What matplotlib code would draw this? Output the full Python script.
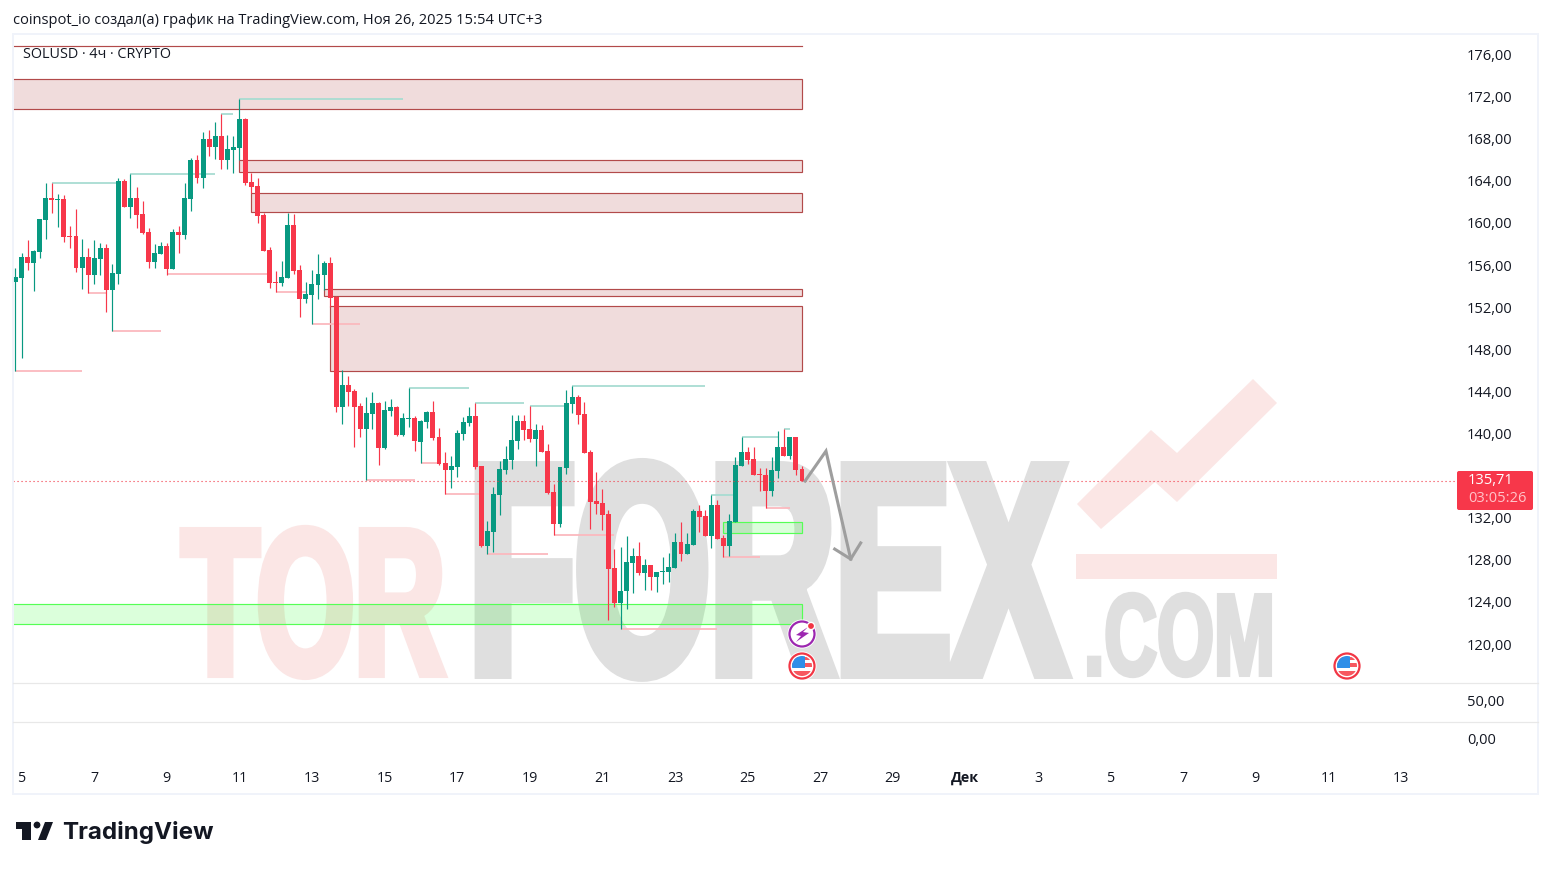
import matplotlib
matplotlib.use("Agg")
from matplotlib import pyplot as plt
from matplotlib.patches import Rectangle, Circle, Polygon, FancyBboxPatch
from matplotlib.patheffects import AbstractPathEffect
from matplotlib.transforms import Affine2D

plt.rcParams['font.family'] = ['Open Sans', 'DejaVu Sans']

# 4h candles
opens = [154.39, 154.77, 156.76, 156.19, 157.24, 160.28, 162.37, 162.18, 162.27, 158.76,
         158.76, 155.72, 156.76, 155.05, 156.57, 157.62, 153.63, 155.15, 163.98, 161.5,
         162.37, 160.85, 159.14, 156.29, 157.05, 157.81, 155.62, 159.14, 158.85, 162.27,
         165.98, 164.27, 167.97, 167.21, 168.26, 165.98, 166.93, 167.12, 169.87, 163.89,
         163.51, 160.75, 157.43, 154.39, 154.29, 154.77, 159.8, 155.53, 152.77, 153.16,
         154.1, 155.05, 156.19, 152.96, 142.51, 144.6, 144.03, 142.61, 140.42, 141.85,
         142.89, 138.62, 142.13, 142.51, 139.85, 141.37, 141.47, 139.19, 141.09, 142.04,
         139.66, 137.19, 136.53, 136.81, 139.95, 141.0, 141.66, 136.91, 129.31, 130.64,
         134.15, 136.53, 137.48, 139.28, 141.18, 140.42, 139.47, 140.33, 138.33, 134.44,
         131.4, 136.72, 142.8, 143.46, 141.85, 138.24, 133.58, 133.39, 132.35, 127.22,
         123.89, 125.03, 127.69, 128.36, 126.74, 127.5, 126.36, 126.84, 126.84, 127.22,
         129.69, 128.55, 129.4, 132.63, 132.16, 130.26, 133.2, 130.07, 129.31, 131.59,
         136.91, 138.24, 137.57, 136.15, 136.05, 134.53, 136.43, 138.71, 137.86, 139.66, 136.63]
highs = [155.72, 157.14, 158.38, 157.43, 160.37, 163.79, 163.79, 162.75, 162.65, 159.71,
         161.32, 158.47, 157.62, 158.38, 158.09, 158.0, 156.1, 164.27, 164.17, 164.65,
         163.41, 162.08, 159.52, 158.0, 158.19, 158.09, 159.42, 159.71, 163.79, 166.17,
         166.45, 168.64, 168.83, 169.59, 170.35, 168.35, 168.26, 171.77, 169.97, 164.74,
         164.27, 160.95, 157.71, 155.43, 156.38, 160.95, 160.85, 155.98, 154.39, 155.53,
         157.05, 156.38, 156.76, 153.06, 146.03, 145.46, 144.22, 142.89, 143.46, 143.94,
         142.99, 143.08, 143.27, 142.61, 141.94, 144.32, 141.66, 141.28, 142.13, 143.08,
         140.52, 138.24, 137.86, 140.33, 141.56, 142.51, 142.89, 136.91, 131.68, 134.91,
         137.38, 138.81, 141.75, 141.75, 141.75, 142.61, 140.9, 140.8, 139.0, 135.2,
         136.81, 144.13, 144.51, 143.65, 142.99, 138.43, 136.34, 134.72, 132.73, 129.02,
         129.21, 130.26, 129.12, 129.69, 128.07, 127.5, 126.84, 128.26, 128.64, 130.54,
         131.59, 130.54, 132.82, 133.2, 132.73, 134.15, 133.68, 130.35, 132.35, 137.77,
         139.66, 138.71, 138.71, 136.72, 136.72, 137.77, 140.23, 140.43, 139.66, 139.66, 136.91]
lows = [145.93, 147.2, 155.53, 153.53, 156.67, 158.47, 160.95, 159.61, 158.19, 157.62,
        155.34, 153.72, 153.34, 154.2, 155.05, 151.54, 149.73, 154.2, 161.5, 160.47,
        159.52, 158.95, 155.72, 155.72, 157.05, 155.05, 155.62, 157.14, 158.47, 161.13,
        163.79, 163.32, 166.36, 166.07, 165.12, 165.12, 164.74, 165.98, 163.6, 162.85,
        160.0, 157.33, 153.82, 153.44, 154.01, 154.77, 155.15, 151.06, 152.39, 150.4,
        152.77, 153.63, 152.05, 142.04, 140.9, 142.61, 138.71, 139.66, 135.58, 140.42,
        137.0, 138.52, 141.66, 139.76, 139.76, 140.61, 138.33, 137.2, 140.52, 139.38,
        137.0, 134.25, 134.82, 135.86, 139.38, 140.71, 136.62, 129.21, 128.55, 128.74,
        132.25, 136.15, 136.62, 138.52, 139.38, 139.19, 136.91, 138.24, 134.25, 130.35,
        131.11, 136.15, 141.94, 140.9, 138.14, 130.92, 132.35, 130.83, 122.28, 123.51,
        121.42, 123.32, 124.84, 126.55, 125.13, 125.13, 124.94, 125.7, 125.89, 127.22,
        127.88, 128.55, 129.4, 130.64, 130.26, 129.12, 129.97, 128.26, 128.36, 131.59,
        136.91, 137.1, 136.05, 134.53, 132.92, 134.06, 135.77, 137.86, 137.57, 136.05, 135.46]
closes = [154.86, 156.76, 156.19, 157.33, 160.37, 162.37, 162.18, 162.27, 158.66, 158.66,
          155.72, 156.76, 155.05, 156.67, 157.62, 153.63, 155.24, 163.98, 161.5, 162.37,
          160.75, 159.04, 156.29, 157.14, 157.81, 155.62, 159.14, 158.85, 162.37, 165.98,
          164.27, 167.97, 167.21, 168.26, 165.98, 167.02, 167.21, 169.87, 163.79, 163.41,
          160.66, 157.33, 154.29, 154.29, 154.86, 159.8, 155.43, 152.77, 153.25, 154.2,
          155.15, 156.19, 152.87, 142.51, 144.6, 143.94, 142.51, 140.42, 141.94, 142.89,
          138.62, 142.23, 142.51, 139.85, 141.47, 141.47, 139.28, 141.18, 142.04, 139.57,
          137.1, 136.53, 136.91, 140.04, 141.09, 141.66, 136.81, 129.31, 130.73, 134.25,
          136.62, 137.57, 139.38, 141.18, 140.33, 139.47, 140.33, 138.24, 134.34, 131.4,
          136.81, 142.89, 143.46, 141.75, 138.14, 133.49, 133.3, 132.25, 127.12, 123.89,
          125.03, 127.79, 128.36, 126.74, 127.5, 126.36, 126.84, 126.93, 127.31, 129.69,
          128.55, 129.5, 132.63, 132.06, 130.26, 133.2, 129.97, 129.31, 131.68, 137.0,
          138.24, 137.48, 136.05, 136.05, 134.53, 136.53, 138.71, 137.86, 139.66, 136.53, 135.46]

# swing levels: start bar, end bar, price
high_starts = [6, 19, 34, 37, 65, 76, 85, 92, 115, 120, 127]
high_ends = [17, 33, 36, 64, 75, 84, 91, 114, 119, 126, 128]
high_prices = [163.79, 164.65, 170.35, 171.77, 144.32, 142.89, 142.61, 144.51, 134.15, 139.66, 140.43]
low_starts = [0, 12, 16, 25, 43, 49, 58, 67, 71, 78, 89, 100, 117, 124]
low_ends = [11, 15, 24, 42, 48, 57, 66, 70, 77, 88, 99, 116, 123, 128]
low_prices = [145.93, 153.34, 149.73, 155.15, 153.44, 150.4, 135.58, 137.2, 134.25, 128.55, 130.35, 121.42, 128.26, 132.92]

# zones: left bar, bottom price, top price
red_left = [-1, 37, 39, 51, 52]
red_bottom = [170.82, 164.84, 161.04, 153.1, 145.98]
red_top = [173.67, 165.98, 162.84, 153.72, 152.11]
green_left = [-1, 117]
green_bottom = [121.9, 130.54]
green_top = [123.8, 131.59]
zone_right = 130
top_line = 176.81

arrow_bars = [130.5, 133.96, 138.05]
arrow_prices = [135.48, 138.33, 128.07]
head_bars = [135.4, 138.05, 139.7]
head_prices = [129.02, 128.07, 129.6]

# the 136,00 label sits under the price flag, so it is not shown
price_ticks = [120, 124, 128, 132, 140, 144, 148, 152, 156, 160, 164, 168, 172, 176]
volume_ticks = [0, 50]
day_labels = ['5', '7', '9', '11', '13', '15', '17', '19', '21', '23', '25', '27', '29',
              'Дек', '3', '5', '7', '9', '11', '13']
day_bars = [1 + 12 * k for k in range(len(day_labels))]
last_price = closes[-1]

UP = '#089981'
DOWN = '#f7374a'
INK = '#131722'
W, H = 1551, 869


def box(x0, y0, x1, y1):
    return [x0 / W, 1 - y1 / H, (x1 - x0) / W, (y1 - y0) / H]


class Stretch(AbstractPathEffect):
    # makes a text taller and fatter (no heavy condensed font is installed)
    def __init__(self, x0, y0, sx, sy, stroke):
        super().__init__()
        self.x0, self.y0, self.sx, self.sy, self.stroke = x0, y0, sx, sy, stroke

    def draw_path(self, renderer, gc, tpath, affine, rgbFace=None):
        fit = Affine2D().translate(-self.x0, -self.y0).scale(self.sx, self.sy).translate(self.x0, self.y0)
        gc2 = renderer.new_gc()
        gc2.copy_properties(gc)
        gc2.set_linewidth(self.stroke)
        gc2.set_foreground(rgbFace)
        gc2.set_joinstyle('miter')
        renderer.draw_path(gc2, tpath, affine + fit, rgbFace)
        gc2.restore()


fig = plt.figure(figsize=(W / 100, H / 100), dpi=100, facecolor='white')
back = fig.add_axes([0, 0, 1, 1], zorder=0)
back.set_xlim(0, W)
back.set_ylim(H, 0)
back.axis('off')
ax = fig.add_axes(box(13, 34, 1455, 682), zorder=1, facecolor='none')
ax2 = fig.add_axes(box(13, 682, 1455, 758), zorder=1, facecolor='none', sharex=ax)
over = fig.add_axes([0, 0, 1, 1], zorder=2, facecolor='none')
over.set_xlim(0, W)
over.set_ylim(H, 0)
over.axis('off')

# watermark
renderer = fig.canvas.get_renderer()


def watermark(text, x0, x1, top, baseline, size, stroke, color):
    t = back.text(x0, baseline, text, fontsize=size, color=color, fontweight='bold', va='baseline',
                  ha='left', family=['Liberation Sans'])
    sx = (x1 - x0) / t.get_window_extent(renderer).width
    sy = (baseline - top) / (0.9556 * size)
    t.set_path_effects([Stretch(x0, H - baseline, sx, sy, stroke)])


watermark('TOR', 182, 445, 531, 674, 88, 5.8, '#fbe6e5')
watermark('FOREX', 469, 1066, 467, 673, 120, 8.6, '#dfdfdf')
watermark('.COM', 1084, 1275, 595, 675, 50, 2.9, '#dfdfdf')
back.add_patch(Polygon([(1077, 504), (1151, 430), (1177, 453), (1253, 379), (1277, 403),
                        (1177, 502), (1155, 482), (1101, 529)], fc='#fbe6e5', ec='none'))
back.add_patch(Rectangle((1076, 554), 201, 25, fc='#fbe6e5', ec='none'))

# zones
for left, bottom, top in zip(red_left, red_bottom, red_top):
    ax.add_patch(Rectangle((left, bottom), zone_right - left, top - bottom, fc='#a52a2a',
                           alpha=0.16, ec='none', zorder=2))
    ax.add_patch(Rectangle((left, bottom), zone_right - left, top - bottom, fc='none',
                           ec='#b24a4a', lw=0.85, zorder=2))
for left, bottom, top in zip(green_left, green_bottom, green_top):
    ax.add_patch(Rectangle((left, bottom), zone_right - left, top - bottom, fc='#00ff00',
                           alpha=0.14, ec='none', zorder=2))
    ax.add_patch(Rectangle((left, bottom), zone_right - left, top - bottom, fc='none',
                           ec='#55ff55', lw=0.85, zorder=2))
ax.plot([-1, zone_right], [top_line, top_line], color='#b24a4a', lw=0.85, zorder=2)

# swing lines
ax.hlines(high_prices, high_starts, high_ends, color='#a8dcd2', lw=1.3, zorder=3)
ax.hlines(low_prices, low_starts, low_ends, color='#fbb9be', lw=1.3, zorder=3)

# candles
bars = list(range(len(highs)))
colors = [UP if c >= o else DOWN for o, c in zip(opens, closes)]
ax.vlines(bars, lows, highs, color=colors, lw=0.85, zorder=4)
ax.bar(bars, [max(abs(c - o), 0.08) for o, c in zip(opens, closes)],
       bottom=[min(o, c) for o, c in zip(opens, closes)], width=0.82, color=colors, zorder=5)

ax.axhline(last_price, color='#f23645', lw=0.8, ls=(0, (1, 2.6)), zorder=6)

# arrow drawing
ax.plot(arrow_bars, arrow_prices, color='#9e9e9e', lw=2.2, zorder=7, solid_joinstyle='miter')
ax.plot(head_bars, head_prices, color='#9e9e9e', lw=2.2, zorder=7, solid_joinstyle='miter')

ax.set_xlim(-0.413, 237.93)
ax.set_ylim(116.39, 177.95)
ax.yaxis.tick_right()
ax.set_yticks(price_ticks, [f'{p},00' for p in price_ticks])
ax.tick_params(axis='y', length=0, pad=8.6, labelsize=10.5, labelcolor=INK)
ax.tick_params(axis='x', length=0, labelbottom=False)
ax2.set_ylim(-25.0, 75.0)
ax2.yaxis.tick_right()
ax2.set_yticks(volume_ticks, [f'{v},00' for v in volume_ticks])
ax2.tick_params(axis='y', length=0, pad=8.6, labelsize=10.5, labelcolor=INK)
ax2.set_xticks(day_bars, day_labels)
ax2.tick_params(axis='x', length=0, pad=9.5, labelsize=10.3, labelcolor=INK)
for label in ax2.get_xticklabels():
    if label.get_text() == 'Дек':
        label.set_fontweight('bold')
for a in (ax, ax2):
    for side in a.spines.values():
        side.set_visible(False)

# frame and pane separators
over.add_patch(Rectangle((13, 34), 1525, 760, fc='none', ec='#f0f3fa', lw=1.4))
over.plot([13, 1538], [682.6, 682.6], color='#e8e8e8', lw=0.9)
over.plot([13, 1538], [721.6, 721.6], color='#e8e8e8', lw=0.9)

# price flag
over.add_patch(FancyBboxPatch((1457, 471), 76, 39, boxstyle='round,pad=0,rounding_size=2',
                              fc='#f7374a', ec='none'))
over.text(1468, 481, '135,71', color='white', fontsize=10.5, va='center', ha='left')
over.text(1468, 499, '03:05:26', color='#ffc4c9', fontsize=10.5, va='center', ha='left')


def flag_icon(cx, cy):
    over.add_patch(Circle((cx, cy), 14.5, fc='white', ec='none', zorder=5))
    over.add_patch(Circle((cx, cy), 12.5, fc='white', ec='#f23645', lw=1.6, zorder=6))
    clip = Circle((cx, cy), 10, transform=over.transData)
    for top, height in [(-9, 3), (-3, 4), (5, 5)]:
        stripe = Rectangle((cx - 10, cy + top), 20, height, fc='#f7575f', ec='none', zorder=7)
        over.add_patch(stripe)
        stripe.set_clip_path(clip)
    canton = Rectangle((cx - 10, cy - 10), 13, 12, fc='#2f8fe8', ec='none', zorder=8)
    over.add_patch(canton)
    canton.set_clip_path(clip)


flag_icon(802, 666)
flag_icon(1347, 666)
over.add_patch(Circle((802, 634), 14.5, fc='white', ec='none', zorder=5))
over.add_patch(Circle((802, 634), 12.5, fc='white', ec='#9c27b0', lw=1.6, zorder=6))
over.add_patch(Polygon([(808, 627), (796, 635), (801, 636), (796, 642), (809, 633), (803, 632)],
                       fc='#9c27b0', ec='none', zorder=7))
over.add_patch(Circle((811, 626), 3.6, fc='#f23645', ec='white', lw=1, zorder=8))

# header and logo
over.text(13, 20.5, 'coinspot_io создал(а) график на TradingView.com, Ноя 26, 2025 15:54 UTC+3',
          color=INK, fontsize=10.5, va='center', ha='left')
over.text(23, 54.5, 'SOLUSD · 4ч · CRYPTO', color=INK, fontsize=10.35, va='center', ha='left')
over.add_patch(Polygon([(16, 822), (31, 822), (31, 840), (22, 840), (22, 829), (16, 829)],
                       fc=INK, ec='none'))
over.add_patch(Circle((37, 825), 3.4, fc=INK, ec='none'))
over.add_patch(Polygon([(45, 822), (53, 822), (46, 840), (38, 840)], fc=INK, ec='none'))
over.text(62, 832, 'TradingView', color=INK, fontsize=17.4, fontweight='bold', va='center', ha='left',
          family=['Inter', 'DejaVu Sans'])

fig.savefig('out.png', dpi=100)
